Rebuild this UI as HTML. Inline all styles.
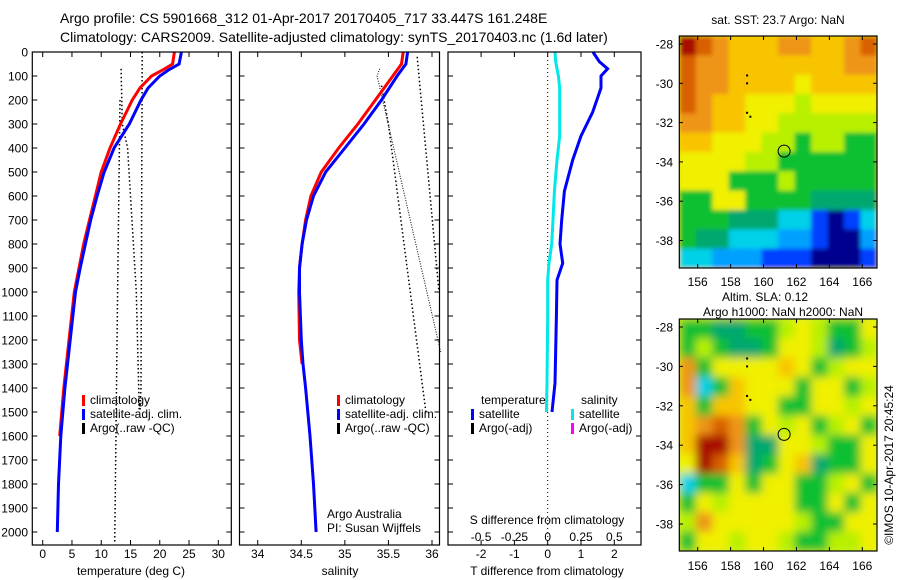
<!DOCTYPE html>
<html><head><meta charset="utf-8"><title>Argo profile</title>
<style>
html,body{margin:0;padding:0;background:#fff;}
svg{display:block;font-family:"Liberation Sans",Arial,sans-serif;}
text{fill:#000;}
</style></head>
<body>
<svg id="fig" width="900" height="580" viewBox="0 0 900 580" xmlns="http://www.w3.org/2000/svg">
<defs>
<filter id="blur" x="0" y="0" width="1" height="1"><feGaussianBlur stdDeviation="4.5"/></filter>
<filter id="blur1" x="0" y="0" width="1" height="1"><feGaussianBlur stdDeviation="2"/></filter>
<clipPath id="clipMap2"><rect x="679.3" y="319" width="197.7" height="232"/></clipPath>
<clipPath id="clipMap1"><rect x="679.3" y="36" width="197.7" height="232"/></clipPath>
</defs>
<text x="60" y="23" font-size="14">Argo profile: CS 5901668_312 01-Apr-2017 20170405_717 33.447S 161.248E</text>
<text x="60" y="42" font-size="14">Climatology: CARS2009. Satellite-adjusted climatology: synTS_20170403.nc (1.6d later)</text>
<g id="g"></g>
</svg>
<script>
// ---- data ----
var depthTicks = [0,100,200,300,400,500,600,700,800,900,1000,1100,1200,1300,1400,1500,1600,1700,1800,1900,2000];
var tempTicks = [0,5,10,15,20,25,30];
var salTicks = [34,34.5,35,35.5,36];
var salTickLabels = ["34","34.5","35","35.5","36"];
var dTTicks = [-2,-1,0,1,2];
var dSTicks = [-0.5,-0.25,0,0.25,0.5];
var dSTickLabels = ["-0.5","-0.25","0","0.25","0.5"];
var lonTicks = [156,158,160,162,164,166];
var latTicks = [-28,-30,-32,-34,-36,-38];

var climDepth = [0,50,75,100,150,200,300,400,500,600,700,800,900,1000,1200,1400,1600];
var climTemp  = [22.5,22.2,20.5,18.6,16.6,15.3,13.3,11.5,10.0,9.0,8.0,7.0,6.2,5.4,4.5,3.6,2.9];
var satDepth  = [0,50,75,100,150,200,300,400,500,600,700,800,900,1000,1200,1400,1600,1800,2000];
var satTemp   = [23.7,23.3,21.5,20.0,18.0,16.8,14.8,12.2,10.5,9.3,8.2,7.3,6.4,5.6,4.7,3.8,3.1,2.7,2.5];
var climDepthS = [0,50,100,200,300,400,500,600,700,800,900,1000,1200,1300];
var climSal    = [35.67,35.65,35.55,35.35,35.15,34.93,34.73,34.61,34.55,34.51,34.48,34.47,34.48,34.51];
var satSal     = [35.72,35.70,35.60,35.42,35.22,35.00,34.78,34.64,34.56,34.51,34.48,34.48,34.50,34.52];
var satDepthS2 = [1300,1400,1600,1800,2000];
var satSal2    = [34.52,34.55,34.60,34.64,34.67];
var argoT1 = [[17,0],[16.8,1400],[16.6,1500]];
var argoT2 = [[13.4,70],[13.6,300],[14.5,400],[16,1000],[16.5,1500]];
var argoT3 = [[13.2,200],[12.8,1000],[12.3,2050]];
var argoS1 = [[35.83,20],[36.08,1000]];
var argoS2 = [[35.4,70],[35.37,100],[36.1,1250]];
var argoS3 = [[35.42,140],[35.5,300],[35.93,1500]];
var diffDepth = [0,40,70,100,150,250,350,450,580,700,800,880,950,1100,1380,1500];
var diffT     = [1.36,1.55,1.8,1.6,1.6,1.35,1.0,0.75,0.5,0.42,0.37,0.45,0.28,0.26,0.22,0.13];
var diffS     = [0.055,0.06,0.07,0.08,0.09,0.09,0.09,0.07,0.05,0.04,0.03,0.01,0.0,0.0,-0.005,-0.01];

// map cells (rows north->south, 1 deg cols from 154.9E)
var sstRows = ["BA988899889A","A99888888899","A99888878888","A98877767777","998877666666","887776656655","777766555555","777555655555","557755554444","555444331013","544333221002","332221110001"];
var slaRows = ["554455676557","565445776456","957777875677","935877757756","858877557767","89A957675675","8BB944776557","7BA845784557","355757755675","576777755757","697777765577","577677655667"];
var colormap = {"0":"#00008f","1":"#0040ff","2":"#00a0ff","3":"#00d0e8","4":"#00a870","5":"#10c030","6":"#b8f000","7":"#f0f000","8":"#f8c400","9":"#ee9418","A":"#d86000","B":"#a81000"};

// ---- axes ----
var NS="http://www.w3.org/2000/svg", G=document.getElementById('g');
function dY(d){return 52+d*0.24;}
function tX(t){return 42.7+t*5.853;}
function sX(s){return 257.7+(s-34)*87.15;}
function dTX(v){return 547.7+v*33.3;}
function dSX(v){return 547.7+v*133.2;}
function lonX(l){return 697.7+(l-156)*16.46;}
function lat1Y(a){return 44+(-28-a)*19.65;}
function lat2Y(a){return 327+(-28-a)*19.7;}
function mk(tag,attrs,parent){var e=document.createElementNS(NS,tag);for(var k in attrs)e.setAttribute(k,attrs[k]);(parent||G).appendChild(e);return e;}
function txt(x,y,s,size,anchor,name){var e=mk('text',{x:x,y:y,'font-size':size||12,'text-anchor':anchor||'middle'});e.textContent=s;


return e;}
function box(x1,y1,x2,y2,name){var e=mk('rect',{x:x1,y:y1,width:x2-x1,height:y2-y1,fill:'none',stroke:'#000','stroke-width':1.2});


return e;}
function line(pts,color,w,dash,name){var e=mk('polyline',{points:pts.map(function(p){return p[0].toFixed(1)+','+p[1].toFixed(1);}).join(' '),fill:'none',stroke:color,'stroke-width':w});
if(dash)e.setAttribute('stroke-dasharray',dash);


return e;}
function tick(x1,y1,x2,y2){mk('line',{x1:x1,y1:y1,x2:x2,y2:y2,stroke:'#000','stroke-width':1});}

var PT=52, PB=545;
var panels=[[32.3,231.3],[239.5,439.5],[448,641]];
panels.forEach(function(p,i){
  depthTicks.forEach(function(d){var y=dY(d);tick(p[0],y,p[0]+5,y);tick(p[1]-5,y,p[1],y);});
});
depthTicks.forEach(function(d){txt(28,dY(d)+4.5,String(d),12,'end','depth-tick-label');});
tempTicks.forEach(function(t){var x=tX(t);tick(x,PT,x,PT+5);tick(x,PB-5,x,PB);txt(x,558,String(t),12,'middle','temperature-tick-label');});
salTicks.forEach(function(s,i){var x=sX(s);tick(x,PT,x,PT+5);tick(x,PB-5,x,PB);txt(x,558,salTickLabels[i],12,'middle','salinity-tick-label');});
dTTicks.forEach(function(v){var x=dTX(v);tick(x,PT,x,PT+5);tick(x,PB-5,x,PB);txt(x,558,String(v),12,'middle','t-diff-tick-label');});
dSTicks.forEach(function(v,i){txt(dSX(v),541,dSTickLabels[i],12,'middle','s-diff-tick-label');});
txt(131,575,'temperature (deg C)',12,'middle','temperature-axis-title');
txt(340,575,'salinity',12,'middle','salinity-axis-title');
txt(547,575,'T difference from climatology',12,'middle','t-diff-axis-title');
txt(547,524,'S difference from climatology',12,'middle','s-diff-axis-title');

// temperature panel
line(argoT1.map(function(p){return [tX(p[0]),dY(p[1])];}),'#000',1.5,'1.5,2.5','argo-temp-line-1');
line(argoT2.map(function(p){return [tX(p[0]),dY(p[1])];}),'#000',1.5,'1.5,2.5','argo-temp-line-2');
line(argoT3.map(function(p){return [tX(p[0]),dY(p[1])];}),'#000',1.5,'1.5,2.5','argo-temp-line-3');
line(climDepth.map(function(d,i){return [tX(climTemp[i]),dY(d)];}),'#ff0000',3,null,'temp-climatology-line');
line(satDepth.map(function(d,i){return [tX(satTemp[i]),dY(d)];}),'#0000ff',3,null,'temp-satellite-adj-line');

// salinity panel
line(argoS1.map(function(p){return [sX(p[0]),dY(p[1])];}),'#000',1.5,'1.5,2.5','argo-sal-line-1');
line(argoS2.map(function(p){return [sX(p[0]),dY(p[1])];}),'#000',1,'1,1.5','argo-sal-line-2');
line(argoS3.map(function(p){return [sX(p[0]),dY(p[1])];}),'#000',1.5,'1.5,2.5','argo-sal-line-3');
line(climDepthS.map(function(d,i){return [sX(climSal[i]),dY(d)];}),'#ff0000',3,null,'sal-climatology-line');
line(climDepthS.map(function(d,i){return [sX(satSal[i]),dY(d)];}).concat(satDepthS2.map(function(d,i){return [sX(satSal2[i]),dY(d)];})),'#0000ff',3,null,'sal-satellite-adj-line');

// difference panel
line([[dTX(0),PT],[dTX(0),PB]],'#000',1,'1,3','zero-line');
line(diffDepth.map(function(d,i){return [dSX(diffS[i]),dY(d)];}),'#00e8e8',3,null,'s-diff-satellite-line');
line(diffDepth.map(function(d,i){return [dTX(diffT[i]),dY(d)];}),'#0000ff',3,null,'t-diff-satellite-line');

// legends
function legItem(x,y,color,label,name){mk('rect',{x:x,y:y-9,width:3,height:11,fill:color});var t=txt(x+8,y,label,12,'start',name);}
legItem(82,404,'#ff0000','climatology','legend-climatology');
legItem(82,418,'#0000ff','satellite-adj. clim.','legend-satellite-adj');
legItem(82,432,'#000','Argo(..raw -QC)','legend-argo');
legItem(337,404,'#ff0000','climatology','legend-sal-climatology');
legItem(337,418,'#0000ff','satellite-adj. clim.','legend-sal-satellite-adj');
legItem(337,432,'#000','Argo(..raw -QC)','legend-sal-argo');
txt(481,404,'temperature',12,'start','legend-temperature-header');
legItem(471,418,'#0000ff','satellite','legend-t-satellite');
legItem(471,432,'#000','Argo(-adj)','legend-t-argo');
txt(581,404,'salinity',12,'start','legend-salinity-header');
legItem(571,418,'#00e8e8','satellite','legend-s-satellite');
legItem(571,432,'#ff00ff','Argo(-adj)','legend-s-argo');
txt(327,518,'Argo Australia',12,'start','credit-argo-australia');
txt(327,532,'PI: Susan Wijffels',12,'start','credit-pi');

panels.forEach(function(p,i){box(p[0],PT,p[1],PB,'profile-panel-'+(i+1));});

// maps
function drawMap(rows,top,bottom,name,group){
  var nR=rows.length,nC=rows[0].length,L=679.3,R=877,h=(bottom-top)/nR,w=(R-L)/nC;
  rows.forEach(function(r,ri){for(var ci=0;ci<nC;ci++){
    var c=mk('rect',{x:(L+ci*w).toFixed(2),y:(top+ri*h).toFixed(2),width:(w+0.6).toFixed(2),height:(h+0.6).toFixed(2),fill:colormap[r[ci]]},group);
    
    
  }});
}
var g1o=mk('g',{'clip-path':'url(#clipMap1)'});
var g1=mk('g',{filter:'url(#blur1)'},g1o);


mk('rect',{x:660,y:20,width:240,height:270,fill:'#e0e000'},g1);
drawMap(sstRows,36,268,'sst-map',g1);
var g2o=mk('g',{'clip-path':'url(#clipMap2)'});
var g2=mk('g',{filter:'url(#blur)'},g2o);


mk('rect',{x:660,y:300,width:240,height:270,fill:'#d8f020'},g2);
drawMap(slaRows,319,551,'sla-map',g2);
function mapAxes(latY,top,bottom,labY,n){
  lonTicks.forEach(function(l){var x=lonX(l);tick(x,top,x,top+4);tick(x,bottom-4,x,bottom);txt(x,labY,String(l),12,'middle','map'+n+'-lon-tick-label');});
  latTicks.forEach(function(a){var y=latY(a);tick(679.3,y,683,y);tick(873,y,877,y);txt(673,y+4.5,String(a),12,'end','map'+n+'-lat-tick-label');});
  box(679.3,top,877,bottom,'map'+n+'-frame');
  var c=mk('circle',{cx:lonX(161.25),cy:latY(-33.45),r:6,fill:'none',stroke:'#000','stroke-width':1});
  
  
  [[159,-29.6],[159,-30],[159,-31.5],[159.2,-31.7]].forEach(function(p){mk('rect',{x:lonX(p[0])-1,y:latY(p[1])-1,width:2,height:2,fill:'#000'});});
}
mapAxes(lat1Y,36,268,286,1);
mapAxes(lat2Y,319,551,570,2);
txt(778,24,'sat. SST: 23.7 Argo: NaN',12,'middle','sst-map-title');
txt(722,301,'Altim. SLA: 0.12',12,'start','sla-map-title');
txt(783,316,'Argo h1000: NaN h2000: NaN',12,'middle','sla-map-subtitle');
var ts=txt(0,0,'\u00a9IMOS 10-Apr-2017 20:45:24',12,'middle','timestamp');
ts.setAttribute('transform','translate(893,465) rotate(-90)');
</script>
</body></html>
